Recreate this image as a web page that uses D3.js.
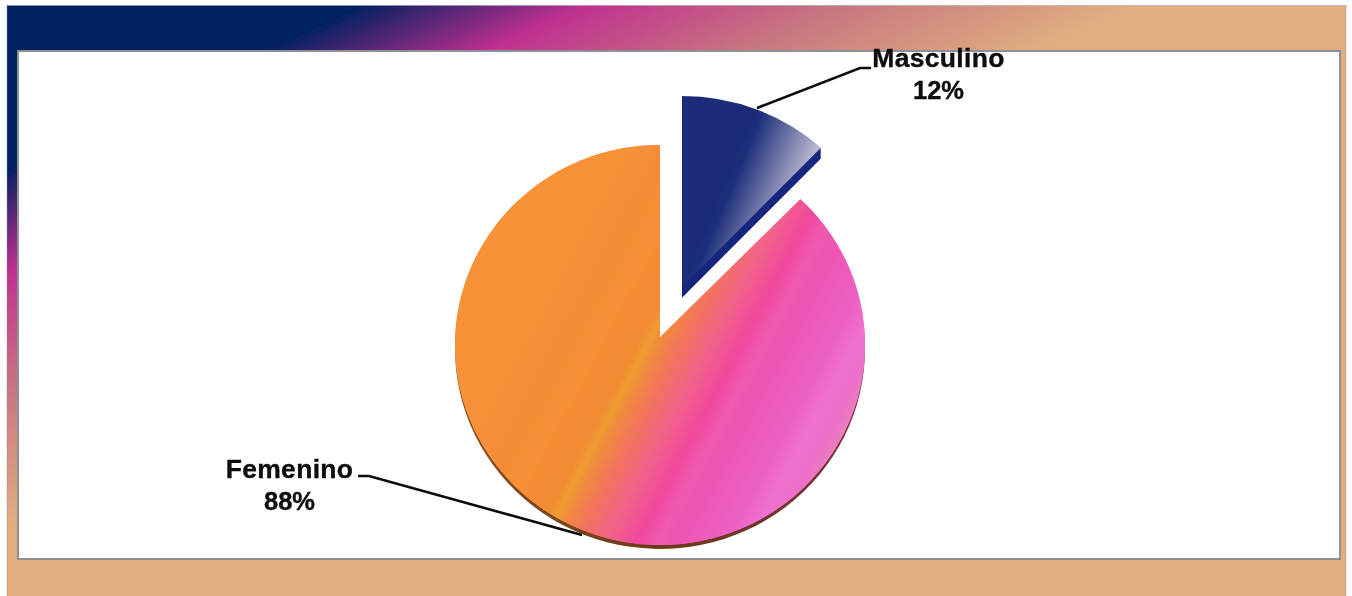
<!DOCTYPE html>
<html><head><meta charset="utf-8">
<script src="https://cdn.jsdelivr.net/npm/d3@7"></script>
<style>html,body{margin:0;padding:0;background:#fff;overflow:hidden}svg{display:block}text{font-family:"Liberation Sans",Arial,sans-serif;font-weight:bold;fill:#0a0a0a;stroke:#0a0a0a;stroke-width:.35}</style>
</head><body><div id="c"></div>
<script>
const categories=["Masculino","Femenino"];
const values=[12,88];
const percentLabels=["12%","88%"];
const W=1352,H=596;
const svg=d3.select("#c").append("svg").attr("width",W).attr("height",H);
const defs=svg.append("defs");
defs.append("filter").attr("id","soft").attr("x",0).attr("y",0).attr("width",1).attr("height",1)
  .append("feGaussianBlur").attr("stdDeviation",.6);
function grad(id,x1,y1,x2,y2,stops){
  const g=defs.append("linearGradient").attr("id",id).attr("gradientUnits","userSpaceOnUse")
    .attr("x1",x1).attr("y1",y1).attr("x2",x2).attr("y2",y2);
  stops.forEach(s=>g.append("stop").attr("offset",s[0]).attr("stop-color",s[1]));
}
const root=svg.append("g").attr("filter","url(#soft)");
root.append("rect").attr("width",W).attr("height",H).attr("fill","#fff");
grad("bg",0,0,252,546,[[0.258,"#002060"],[0.417,"#C03090"],[0.6,"#C87880"],[0.8,"#E0AE80"],[1,"#E0AE80"]]);
// panel
root.append("rect").attr("x",7).attr("y",5.5).attr("width",1339).attr("height",600).attr("fill","url(#bg)").attr("stroke","#8f8f96").attr("stroke-opacity",.4);
root.append("rect").attr("x",18).attr("y",51).attr("width",1322).attr("height",508).attr("fill","#fff").attr("stroke","#8f8f96").attr("stroke-width",2);

const pie=d3.pie().sort(null).value((d,i)=>values[i]);
const arcs=pie(values);
const R=203;
const arc=d3.arc().innerRadius(0).outerRadius(R);
const cx=660,cy=345,depth=4;
const fem=root.append("g").attr("transform",`translate(${cx},${cy}) scale(${205/R},${200/R})`);
// gradient runs across the stripes: t along the normal (.887,.46)
const n=[.887,.46];
const gp=t=>[n[0]*t,n[1]*t];
const [a1,a2]=[gp(-215),gp(215)];
const stripeStops=[[-215,"#F79238"],[-120,"#F79138"],[-85,"#F48C36"],[-60,"#F78F37"],[-30,"#F48A34"],[-19,"#F28C32"],[-11,"#F09C30"],[-3,"#F08C3C"],[18,"#F2745C"],[45,"#F2628A"],[72,"#F0489E"],[90,"#F05AB0"],[108,"#EE54B4"],[130,"#EE5CBC"],[150,"#EC60C4"],[170,"#EE70D0"],[190,"#EC70C8"],[215,"#E888B4"]];
grad("femFill",a1[0],a1[1],a2[0],a2[1],stripeStops.map(s=>[(s[0]+215)/430,s[1]]));
grad("femDepth",-203,0,203,0,[[0,"#8a5020"],[.5,"#6a3a18"],[1,"#7a3040"]]);
fem.append("path").attr("d",arc(arcs[1])).attr("transform",`translate(0,${depth})`).attr("fill","url(#femDepth)");
// the slice's inner point sits above the pie centre: underlay the whole disc, then cut the gap
fem.append("path").attr("d",arc({startAngle:0,endAngle:2*Math.PI})).attr("fill","url(#femFill)");
fem.append("path").attr("d",arc(arcs[1])).attr("fill","url(#femFill)");
const gapArc=d3.arc().innerRadius(0).outerRadius(215);
root.append("path").attr("transform",`translate(${cx},337)`)
  .attr("d",gapArc({startAngle:arcs[0].startAngle,endAngle:arcs[0].endAngle+0.04})).attr("fill","#fff");

// exploded slice
const mx=682,my=287,mR=197;
const masc=root.append("g").attr("transform",`translate(${mx},${my}) scale(${203/mR},${191/mR})`);
const mArc=d3.arc().innerRadius(0).outerRadius(mR);
grad("mascFill",0,0,79,31,[[0,"#1A2C7A"],[.08,"#1C2E7B"],[.55,"#8287B0"],[1,"#DED6E2"]]);
masc.selectAll("path.side").data(d3.range(1,12)).join("path").attr("class","side")
  .attr("d",mArc(arcs[0])).attr("transform",k=>`translate(0,${k})`).attr("fill","#14267E");
masc.append("path").attr("d",mArc(arcs[0])).attr("fill","url(#mascFill)");

// leader lines
const line=d3.line();
root.append("path").attr("d",line([[757,108],[860,68],[871,68]])).attr("fill","none").attr("stroke","#0a0a0a").attr("stroke-width",2.6);
root.append("path").attr("d",line([[358,476],[369,476],[582,535]])).attr("fill","none").attr("stroke","#0a0a0a").attr("stroke-width",2.6);

// labels
const labelPos=[[938.5,67,99],[289.5,478,510]];
categories.forEach((c,i)=>{
  root.append("text").attr("x",labelPos[i][0]).attr("y",labelPos[i][1]).attr("text-anchor","middle")
    .attr("font-size",26.5).attr("letter-spacing",.3).text(c);
  root.append("text").attr("x",labelPos[i][0]).attr("y",labelPos[i][2]).attr("text-anchor","middle")
    .attr("font-size",25.5).text(percentLabels[i]);
});
</script></body></html>
